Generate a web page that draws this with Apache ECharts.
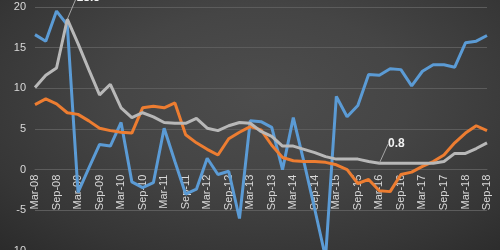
<!DOCTYPE html>
<html>
<head>
<meta charset="utf-8">
<script src="https://cdn.jsdelivr.net/npm/echarts@6/dist/echarts.min.js"></script>
<style>
html,body{margin:0;padding:0;width:500px;height:250px;overflow:hidden;}
body{background:radial-gradient(ellipse 75% 85% at 52% 38%, #4d4d4d 0%, #454545 40%, #363636 78%, #2b2b2b 100%);}
#c{width:500px;height:250px;}
</style>
</head>
<body>
<div id="c"></div>
<script>
const categories = ["Mar-08","Jun-08","Sep-08","Dec-08","Mar-09","Jun-09","Sep-09","Dec-09","Mar-10","Jun-10","Sep-10","Dec-10","Mar-11","Jun-11","Sep-11","Dec-11","Mar-12","Jun-12","Sep-12","Dec-12","Mar-13","Jun-13","Sep-13","Dec-13","Mar-14","Jun-14","Sep-14","Dec-14","Mar-15","Jun-15","Sep-15","Dec-15","Mar-16","Jun-16","Sep-16","Dec-16","Mar-17","Jun-17","Sep-17","Dec-17","Mar-18","Jun-18","Sep-18"];
const blueSeries = [16.6,15.8,19.5,17.8,-2.8,0.2,3.1,2.9,5.8,-1.5,-2.2,-1.6,5.1,1.0,-3.0,-2.4,1.4,-0.6,-0.2,-6.0,6.0,5.9,5.2,0.0,6.4,0.9,-4.9,-10.8,9.0,6.5,7.9,11.7,11.6,12.4,12.3,10.3,12.1,12.9,12.9,12.6,15.6,15.8,16.5];
const orangeSeries = [8.0,8.7,8.1,7.0,6.8,6.0,5.1,4.8,4.6,4.5,7.6,7.8,7.6,8.2,4.3,3.3,2.5,1.8,3.8,4.6,5.3,4.9,3.0,1.5,1.1,1.0,1.0,0.9,0.6,0.0,-1.7,-1.2,-2.6,-2.7,-0.6,-0.3,0.4,1.0,1.8,3.3,4.5,5.4,4.8];
const greySeries = [10.1,11.6,12.5,18.5,15.5,12.3,9.2,10.5,7.6,6.4,7.0,6.5,5.8,5.7,5.7,6.3,5.1,4.8,5.4,5.8,5.7,4.7,4.1,2.9,2.9,2.5,2.1,1.6,1.3,1.3,1.3,1.0,0.8,0.8,0.8,0.8,0.8,0.8,1.0,2.0,2.0,2.6,3.3];
const greyLabelled = [3, 32];
const yTicks = { min: -10, max: 20, step: 5 };

const gridTop = 7, gridHeight = 244;
// place the category axis on the zero line
const zeroOffset = -gridHeight * (0 - yTicks.min) / (yTicks.max - yTicks.min);

const chart = echarts.init(document.getElementById('c'), null, {renderer: 'canvas'});

const greyData = greySeries.map((v, i) => greyLabelled.includes(i)
  ? { value: v, label: { show: true } }
  : v);

chart.setOption({
  backgroundColor: 'transparent',
  animation: false,
  grid: { left: 35, right: 13, top: gridTop, height: gridHeight, containLabel: false, outerBoundsMode: 'none' },
  xAxis: {
    type: 'category',
    data: categories,
    boundaryGap: false,
    position: 'bottom',
    offset: zeroOffset,
    z: 0,
    axisLine: { show: true, onZero: false, lineStyle: { color: '#5c5c5c', width: 1 } },
    axisTick: { show: false },
    axisLabel: {
      interval: 1, rotate: 90, color: '#d9d9d9', fontSize: 11,
      fontFamily: 'Liberation Sans', margin: 5
    },
    splitLine: { show: false }
  },
  yAxis: {
    type: 'value',
    min: yTicks.min, max: yTicks.max, interval: yTicks.step,
    axisLine: { show: false },
    axisTick: { show: false },
    axisLabel: { color: '#d9d9d9', fontSize: 11, fontFamily: 'Liberation Sans', margin: 9 },
    splitLine: { lineStyle: { color: '#5c5c5c', width: 1 } }
  },
  series: [
    {
      type: 'line', data: blueSeries, showSymbol: false,
      lineStyle: { color: '#5b9bd5', width: 3 }, itemStyle: { color: '#5b9bd5' },
      z: 5
    },
    {
      type: 'line', data: orangeSeries, showSymbol: false,
      lineStyle: { color: '#ed7d31', width: 3 }, itemStyle: { color: '#ed7d31' },
      z: 6
    },
    {
      type: 'line', data: greyData, showSymbol: true, showAllSymbol: true,
      symbol: 'circle', symbolSize: 0,
      lineStyle: { color: '#b8b8b8', width: 3 }, itemStyle: { color: '#b8b8b8' },
      label: {
        show: false, position: 'top', color: '#f2f2f2', fontWeight: 'bold',
        fontSize: 12, fontFamily: 'Liberation Sans'
      },
      labelLine: { show: true, lineStyle: { color: '#a6a6a6', width: 1 } },
      labelLayout: function (p) {
        if (p.dataIndex === 3) return { dx: 21, dy: -11 };
        if (p.dataIndex === 32) return { dx: 17, dy: -8 };
        return {};
      },
      z: 7
    }
  ]
});
</script>
</body>
</html>
